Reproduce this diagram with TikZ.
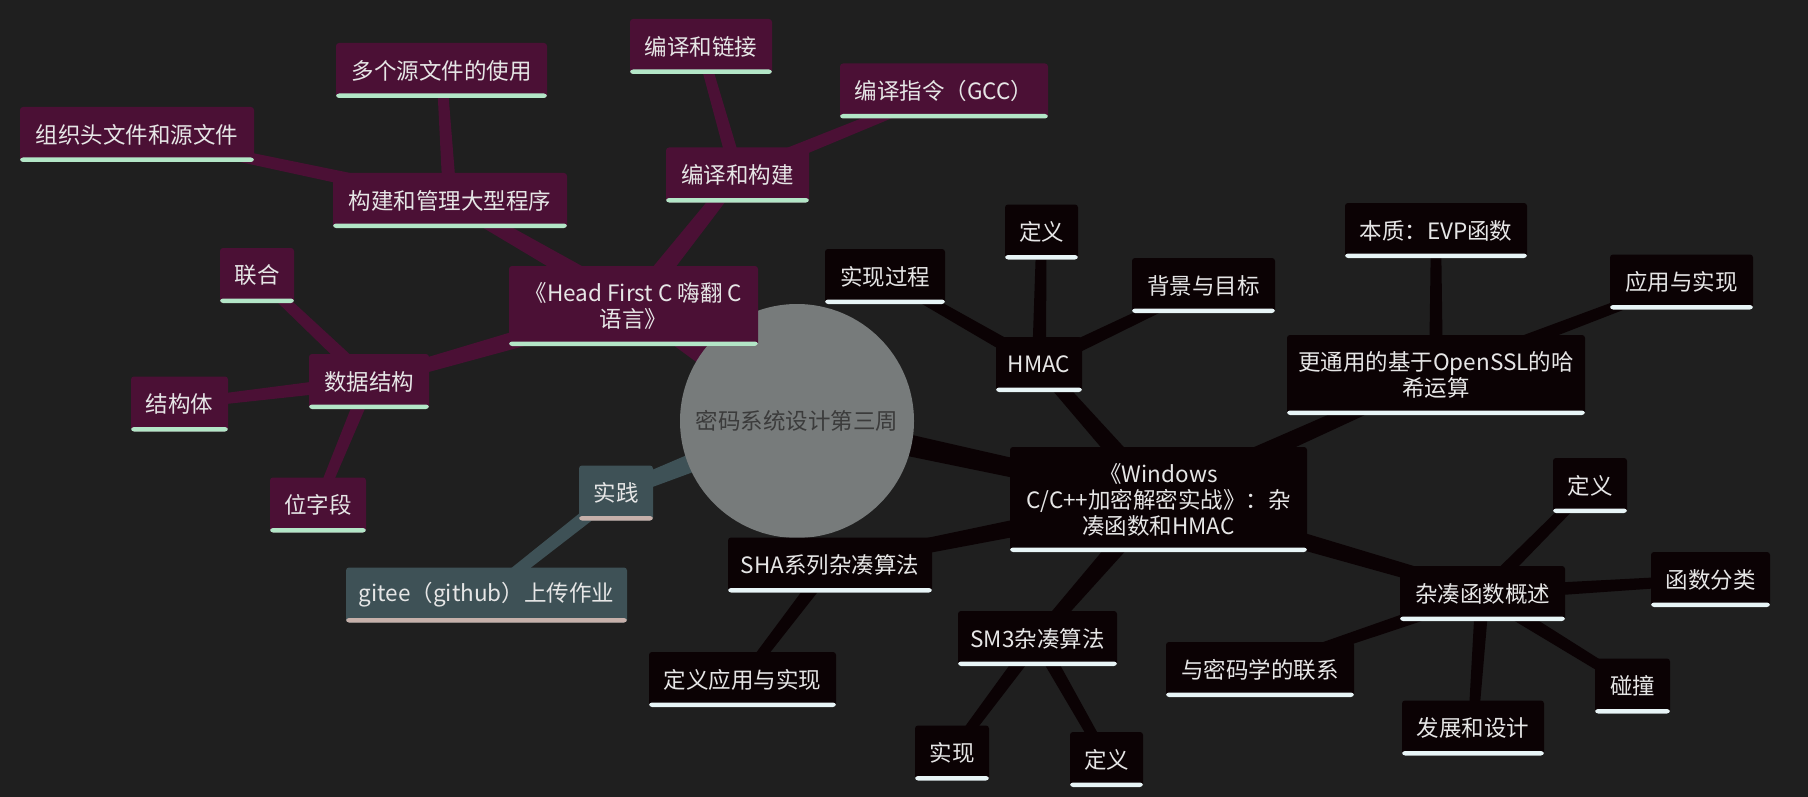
\documentclass[tikz,border=0pt]{standalone}
\usepackage{fontspec}
\setmainfont{Noto Sans CJK SC}
\usetikzlibrary{calc}

\definecolor{bgc}{HTML}{1F1F1F}
\definecolor{purpc}{HTML}{4B1035}
\definecolor{mintc}{HTML}{B3E6C7}
\definecolor{blkc}{HTML}{0B0204}
\definecolor{whtc}{HTML}{E8F5F7}
\definecolor{tealc}{HTML}{3E5156}
\definecolor{sandc}{HTML}{C6B0AA}
\definecolor{rootc}{HTML}{777B7B}
\definecolor{roottxt}{HTML}{3B3B3B}
\definecolor{txtc}{HTML}{E6E6E6}

\pgfdeclarelayer{bg}
\pgfsetlayers{bg,main}

\newcommand{\taper}[5]{\fill[#5] ($(#1)!#3!90:(#2)$) -- ($(#2)!#4!-90:(#1)$) -- ($(#2)!#4!90:(#1)$) -- ($(#1)!#3!-90:(#2)$) -- cycle;}

\tikzset{
  topic/.style={rectangle, rounded corners=3pt, inner sep=0pt, align=center, text=txtc,
    font=\fontsize{22.5}{26}\selectfont, minimum height=55pt},
  uline/.style={path picture={\fill[#1] ([yshift=4.5pt]path picture bounding box.south west) rectangle (path picture bounding box.south east);}},
  purp/.style={topic, fill=purpc, uline=mintc},
  blk/.style={topic, fill=blkc, uline=whtc},
  teal/.style={topic, fill=tealc, uline=sandc}
}

\begin{document}
\begin{tikzpicture}[x=1pt,y=-1pt]
\useasboundingbox (0,0) rectangle (1808,797);

\node[circle, fill=rootc, minimum size=234pt, inner sep=0pt, text=roottxt, font=\fontsize{22.5}{26}\selectfont] (root) at (797,421) {密码系统设计第三周};

\node[purp, minimum width=249pt, minimum height=80pt] (hf) at (633.5,306) {《Head First C 嗨翻 C\\语言》};
\node[purp, minimum width=234pt] (build) at (450,200.5) {构建和管理大型程序};
\node[purp, minimum width=211pt] (multi) at (441.5,70.5) {多个源文件的使用};
\node[purp, minimum width=234pt] (org) at (137,134.5) {组织头文件和源文件};
\node[purp, minimum width=143pt] (compile) at (737.5,175) {编译和构建};
\node[purp, minimum width=142pt] (link) at (701,46.5) {编译和链接};
\node[purp, minimum width=208pt] (gcc) at (944,91) {编译指令（GCC）};
\node[purp, minimum width=120pt] (ds) at (369,381.5) {数据结构};
\node[purp, minimum width=74pt] (union) at (257,275.5) {联合};
\node[purp, minimum width=97pt] (struct) at (179.5,404) {结构体};
\node[purp, minimum width=96pt] (bitf) at (318,505) {位字段};

\node[teal, minimum width=74pt] (prac) at (616,493) {实践};
\node[teal, minimum width=281pt] (gitee) at (486.5,595) {gitee（github）上传作业};

\node[blk, minimum width=297pt, minimum height=105pt] (win) at (1158.5,499.5) {《Windows\\C/C++加密解密实战》：杂\\凑函数和HMAC};
\node[blk, minimum width=86pt] (hmac) at (1039,364.5) {HMAC};
\node[blk, minimum width=73pt] (hdef) at (1041.5,232) {定义};
\node[blk, minimum width=120pt] (himpl) at (885,276.5) {实现过程};
\node[blk, minimum width=143pt] (hbg) at (1203.5,285.5) {背景与目标};
\node[blk, minimum width=298pt, minimum height=80pt] (evp) at (1436,375) {更通用的基于OpenSSL的哈\\希运算};
\node[blk, minimum width=182pt] (essence) at (1436,230.5) {本质：EVP函数};
\node[blk, minimum width=143pt] (evpapp) at (1681.5,282) {应用与实现};
\node[blk, minimum width=165pt] (hash) at (1482.5,593.5) {杂凑函数概述};
\node[blk, minimum width=74pt] (hashdef) at (1590,485.5) {定义};
\node[blk, minimum width=119pt] (cls) at (1710.5,579.5) {函数分类};
\node[blk, minimum width=75pt] (coll) at (1632.5,686) {碰撞};
\node[blk, minimum width=142pt] (dev) at (1473,728) {发展和设计};
\node[blk, minimum width=188pt] (rel) at (1260,669.5) {与密码学的联系};
\node[blk, minimum width=159pt] (sm3) at (1037.5,638.5) {SM3杂凑算法};
\node[blk, minimum width=74pt] (sm3impl) at (952,753) {实现};
\node[blk, minimum width=73pt] (sm3def) at (1106.5,759.5) {定义};
\node[blk, minimum width=204pt] (sha) at (830,565) {SHA系列杂凑算法};
\node[blk, minimum width=187pt] (shaapp) at (742.5,679.5) {定义应用与实现};

\begin{pgfonlayer}{bg}
\fill[bgc] (0,0) rectangle (1808,797);

\taper{root}{hf}{12pt}{8pt}{purpc}
\taper{root}{win}{12pt}{8pt}{blkc}
\taper{root}{prac}{12pt}{7pt}{tealc}

\taper{hf}{build}{10pt}{6.5pt}{purpc}
\taper{hf}{compile}{10pt}{6.5pt}{purpc}
\taper{hf}{ds}{10pt}{6.5pt}{purpc}
\taper{build}{multi}{7pt}{5pt}{purpc}
\taper{build}{org}{7pt}{5pt}{purpc}
\taper{compile}{link}{7pt}{5pt}{purpc}
\taper{compile}{gcc}{7pt}{5pt}{purpc}
\taper{ds}{union}{7pt}{5pt}{purpc}
\taper{ds}{struct}{7pt}{5pt}{purpc}
\taper{ds}{bitf}{7pt}{5pt}{purpc}

\taper{prac}{gitee}{7pt}{5.5pt}{tealc}

\taper{win}{hmac}{10pt}{6.5pt}{blkc}
\taper{win}{evp}{10pt}{6.5pt}{blkc}
\taper{win}{hash}{10pt}{6.5pt}{blkc}
\taper{win}{sm3}{10pt}{6.5pt}{blkc}
\taper{win}{sha}{10pt}{6.5pt}{blkc}
\taper{hmac}{himpl}{7pt}{5pt}{blkc}
\taper{hmac}{hdef}{7pt}{5pt}{blkc}
\taper{hmac}{hbg}{7pt}{5pt}{blkc}
\taper{evp}{essence}{7pt}{5pt}{blkc}
\taper{evp}{evpapp}{7pt}{5pt}{blkc}
\taper{hash}{hashdef}{7pt}{5pt}{blkc}
\taper{hash}{cls}{7pt}{5pt}{blkc}
\taper{hash}{coll}{7pt}{5pt}{blkc}
\taper{hash}{dev}{7pt}{5pt}{blkc}
\taper{hash}{rel}{7pt}{5pt}{blkc}
\taper{sm3}{sm3impl}{7pt}{5pt}{blkc}
\taper{sm3}{sm3def}{7pt}{5pt}{blkc}
\taper{sha}{shaapp}{7pt}{5pt}{blkc}
\end{pgfonlayer}
\end{tikzpicture}
\end{document}
